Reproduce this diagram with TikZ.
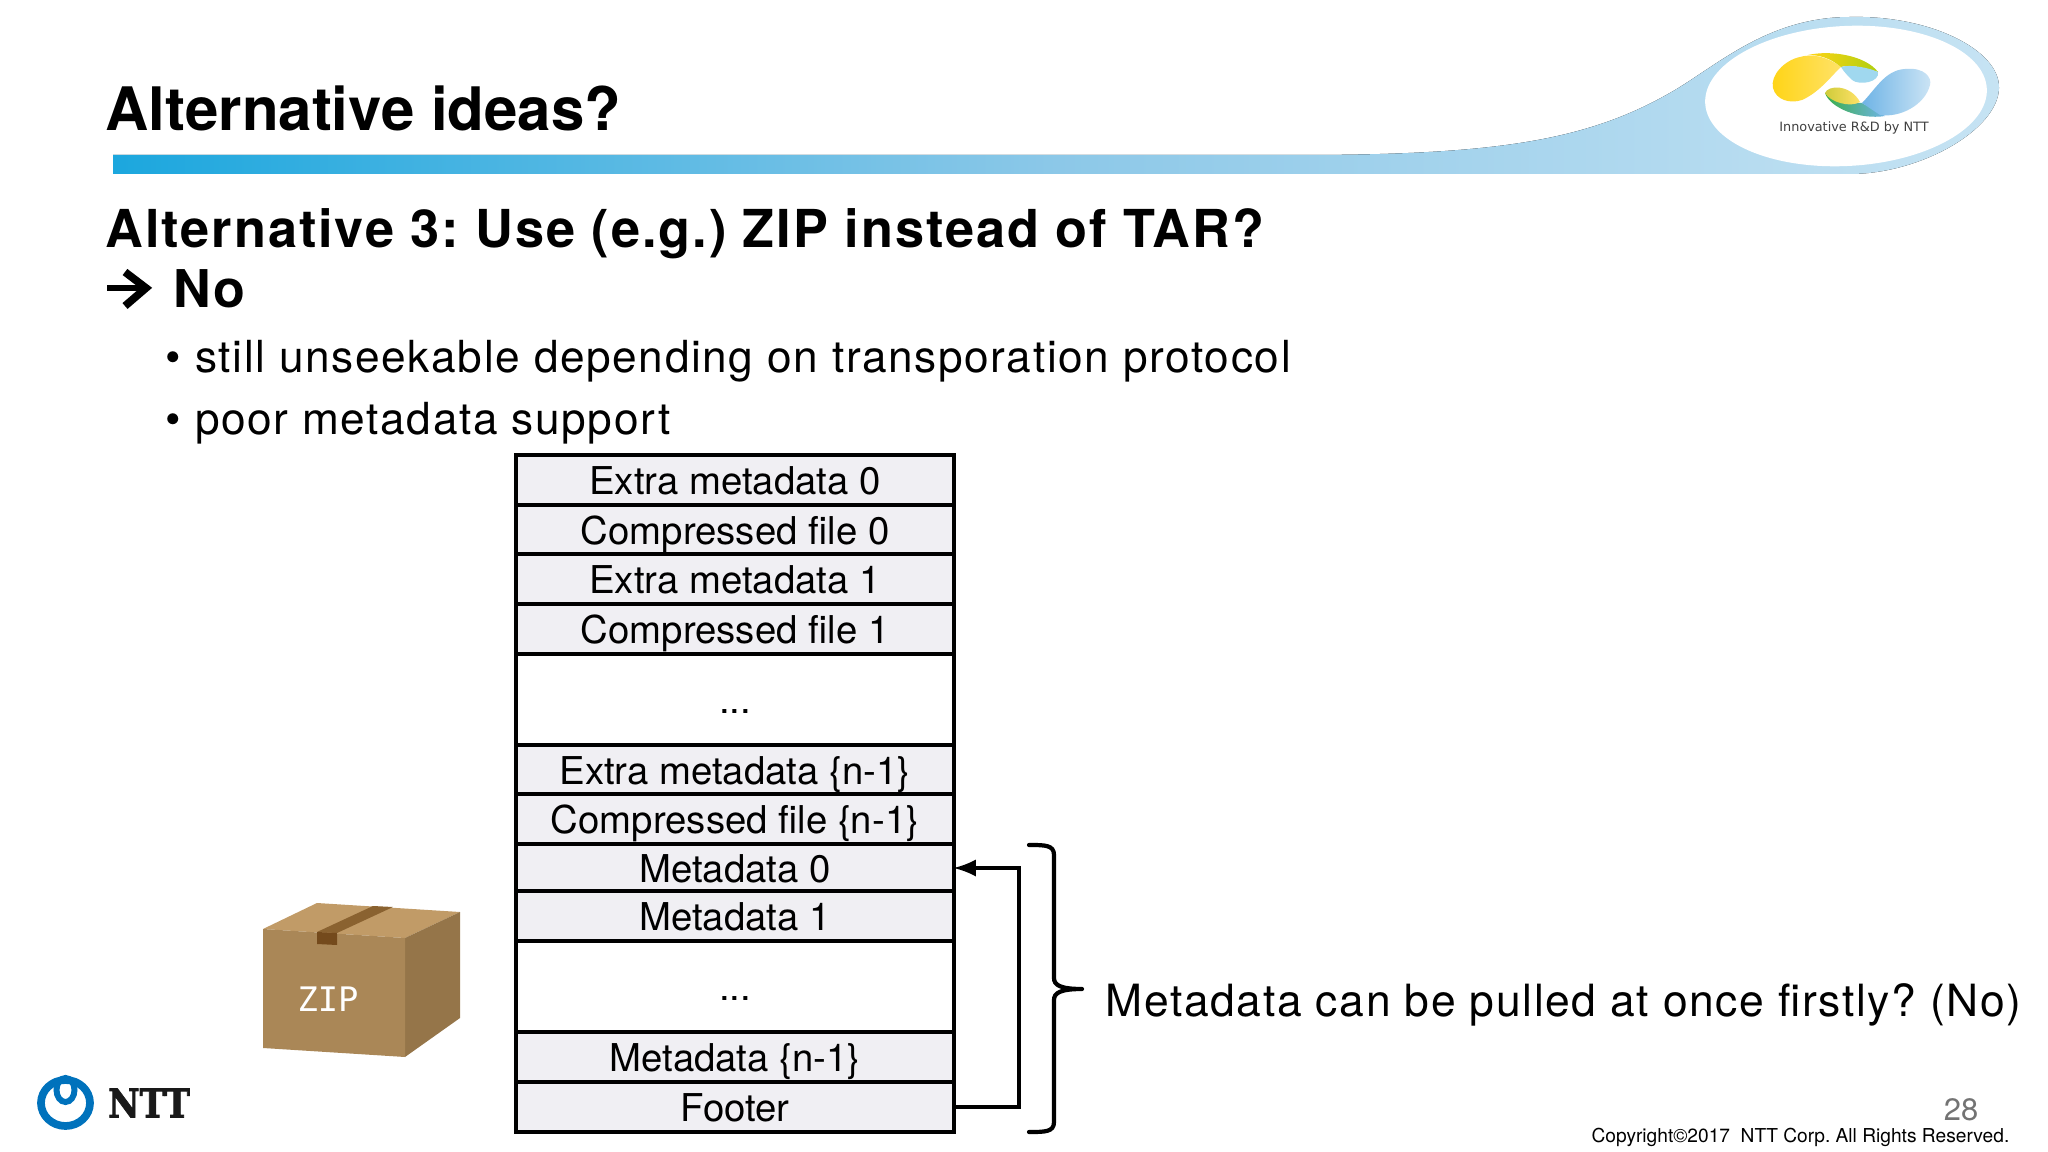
\documentclass[tikz,border=0pt]{standalone}
\usepackage{fontspec}
\setmainfont{TeX Gyre Heros}
\newfontfamily\trackfont[LetterSpace=3.7]{TeX Gyre Heros}
\newfontfamily\monofont{DejaVu Sans Mono}
\newfontfamily\slabfont[BoldFeatures={FakeBold=2}]{DejaVu Serif}
\newfontfamily\widefont{DejaVu Sans}
\usepackage{tikz}
\usetikzlibrary{arrows,arrows.meta,positioning,calc}

\definecolor{barleft}{HTML}{1CA7DE}
\definecolor{barmid}{HTML}{8CC8E8}
\definecolor{barright}{HTML}{C6E3F3}
\definecolor{rowgray}{HTML}{F0EFF3}
\definecolor{nttblue}{HTML}{0072BC}
\definecolor{boxfront}{HTML}{AA8757}
\definecolor{boxside}{HTML}{957549}
\definecolor{boxtop}{HTML}{C19B67}
\definecolor{boxtape}{HTML}{8A6230}
\definecolor{boxtab}{HTML}{744A1C}
\definecolor{logoyellow}{HTML}{FFD414}
\definecolor{logopale}{HTML}{FFE268}
\definecolor{logolime}{HTML}{AFCF10}
\definecolor{logoolive}{HTML}{CFCB3A}
\definecolor{logogreen}{HTML}{3AAE4A}
\definecolor{logosky}{HTML}{A0D8EF}
\definecolor{logoblue}{HTML}{6FB4E6}
\definecolor{logoice}{HTML}{CDE5F5}

\tikzset{
    row/.style={draw=black,line width=1.15pt,fill=rowgray,minimum width=4.38cm,inner sep=0pt,
        text height=0.34cm,text depth=0.06cm,font=\fontsize{10.9}{12}\selectfont},
    rowsmall/.style={row,minimum height=0.495cm},
    rowbig/.style={row,fill=white,minimum height=0.91cm},
    line/.style={anchor=base west,inner sep=0pt},
}

\begin{document}
\frenchspacing
\begin{tikzpicture}[x=0.01cm,y=-0.01cm]
    \useasboundingbox (0,0) rectangle (2048,1152);

    %%% Header
    \fill[left color=barleft,right color=barright,middle color=barmid]
        (113,155) -- (1300,155) .. controls (1500,155) and (1590,140) .. (1675,90)
        .. controls (1720,63) and (1770,17) .. (1850,17)
        .. controls (1930,15) and (2000,50) .. (1999,88)
        .. controls (1998,130) and (1920,174) .. (1850,174) -- (113,174) -- cycle;
    \fill[white,rotate around={3:(1846,96)}] (1846,96) ellipse (141 and 70);

    \shade[left color=logoyellow,right color=logopale] (1841,67) .. controls (1825,55) and (1810,54) .. (1800,57)
        .. controls (1785,60) and (1770,75) .. (1773,88)
        .. controls (1776,100) and (1790,104) .. (1802,100)
        .. controls (1820,92) and (1832,75) .. (1841,67) -- cycle;
    \shade[left color=logoyellow,right color=logolime] (1808,55) .. controls (1830,50) and (1865,55) .. (1878,72)
        .. controls (1865,68) and (1850,64) .. (1841,67)
        .. controls (1830,58) and (1820,55) .. (1808,55) -- cycle;
    \fill[logosky] (1841,67) .. controls (1850,64) and (1870,68) .. (1878,72)
        .. controls (1880,82) and (1860,86) .. (1852,80)
        .. controls (1848,76) and (1844,72) .. (1841,67) -- cycle;
    \shade[left color=logogreen,right color=logoblue] (1825,93) .. controls (1830,108) and (1860,120) .. (1885,116)
        -- (1862,103) .. controls (1850,104) and (1835,95) .. (1825,93) -- cycle;
    \shade[left color=logoolive,right color=logopale] (1825,93) .. controls (1828,85) and (1850,84) .. (1860,102)
        .. controls (1850,108) and (1830,102) .. (1825,93) -- cycle;
    \shade[left color=logoblue,right color=logoice] (1862,103) .. controls (1875,90) and (1885,70) .. (1905,69)
        .. controls (1925,67) and (1932,78) .. (1930,85)
        .. controls (1925,105) and (1900,118) .. (1880,115) -- cycle;

    \node[font=\widefont\fontsize{3.65}{4}\selectfont,text=black!75] (rdlabel) at (1854,128) {Innovative R\&D by NTT};

    %%% Texts
    \node[line,font=\fontsize{17.05}{20}\selectfont\bfseries] (title) at (105,131) {Alternative ideas?};
    \node[line,font=\trackfont\fontsize{14.87}{18}\selectfont\bfseries] (alt) at (105,248) {Alternative 3: Use (e.g.) ZIP instead of TAR?};
    \coordinate (arrowtail) at (107,288);
    \coordinate (arrowtip) at (146,288);
    \coordinate (arrowhi) at (125,272);
    \coordinate (arrowlo) at (125,306);
    \draw[line width=1.7pt] (arrowtail) -- (arrowtip);
    \draw[line width=2.2pt] (arrowhi) -- (arrowtip) -- (arrowlo);
    \node[line,font=\trackfont\fontsize{14.8}{18}\selectfont\bfseries] (no) at (173,308) {No};
    \node[line,font=\trackfont\fontsize{12.57}{16}\selectfont] (reason1) at (165,373) {•\hskip 4pt still unseekable depending on transporation protocol};
    \node[line,font=\trackfont\fontsize{12.57}{16}\selectfont] (reason2) at (165,435) {•\hskip 4pt poor metadata support};

    %%% Layout of the archive
    \node[rowsmall] (extra0) at (735,480) {Extra metadata 0};
    \node[rowsmall] (file0) at (735,530) {Compressed file 0};
    \node[rowsmall] (extra1) at (735,579) {Extra metadata 1};
    \node[rowsmall] (file1) at (735,629) {Compressed file 1};
    \node[rowbig] (dots0) at (735,699.5) {...};
    \node[rowsmall] (extran) at (735,770) {Extra metadata \{n-1\}};
    \node[rowsmall] (filen) at (735,819) {Compressed file \{n-1\}};
    \node[rowsmall,minimum height=0.48cm] (meta0) at (735,868) {Metadata 0};
    \node[rowsmall] (meta1) at (735,916) {Metadata 1};
    \node[rowbig] (dots1) at (735,986.5) {...};
    \node[rowsmall] (metan) at (735,1057) {Metadata \{n-1\}};
    \node[rowsmall] (footer) at (735,1107) {Footer};

    \coordinate (bend) at (1019,990);
    \draw[-latex,line width=1.2pt,shorten >=-0.8pt] (footer.east) -| (bend) |- (meta0.east);

    \coordinate (bracetop) at (1029,845);
    \coordinate (bracebot) at (1029,1132);
    \coordinate (bracetip) at (1082,989);
    \draw[line width=1.2pt,line cap=round] (bracetop) .. controls (1045,845) and (1054,845) .. (1054,855)
        -- (1054,978) .. controls (1054,985) and (1060,989) .. (bracetip)
        (bracetip) .. controls (1060,989) and (1054,993) .. (1054,1000)
        -- (1054,1122) .. controls (1054,1132) and (1045,1132) .. (bracebot);

    \node[line,font=\trackfont\fontsize{12.63}{16}\selectfont] (pulled) at (1105,1016) {Metadata can be pulled at once firstly? (No)};

    %%% Cardboard box
    \fill[boxtop] (263,929) -- (317,903) -- (460,912) -- (405,938) -- cycle;
    \fill[boxside] (405,938) -- (460,912) -- (460,1018) -- (405,1057) -- cycle;
    \fill[boxfront] (263,929) -- (405,938) -- (405,1057) -- (263,1048) -- cycle;
    \fill[boxtape] (373,906) -- (393,907) -- (337,933) -- (317,932) -- cycle;
    \fill[boxtab] (317,932) -- (337,933) -- (337,945) -- (317,944) -- cycle;
    \node[font=\monofont\fontsize{9.6}{10}\selectfont,text=white] (zip) at (328,999) {ZIP};

    %%% Footer of the slide
    \draw[nttblue,line width=2.2pt] (65.5,1103) ellipse (24.5 and 23);
    \draw[nttblue,line width=1.7pt] (65.5,1090) ellipse (9 and 12);
    \node[font=\slabfont\fontsize{11.3}{12}\selectfont\bfseries,text=black!90,xscale=0.87] (ntt) at (149,1103) {NTT};
    \node[font=\fontsize{8.8}{10}\selectfont,text=black!55] (page) at (1961,1110) {28};
    \node[anchor=east,inner sep=0pt,font=\fontsize{5.45}{7}\selectfont] (copyright) at (2010,1137) {Copyright©2017\ \ NTT Corp. All Rights Reserved.};
\end{tikzpicture}
\end{document}
